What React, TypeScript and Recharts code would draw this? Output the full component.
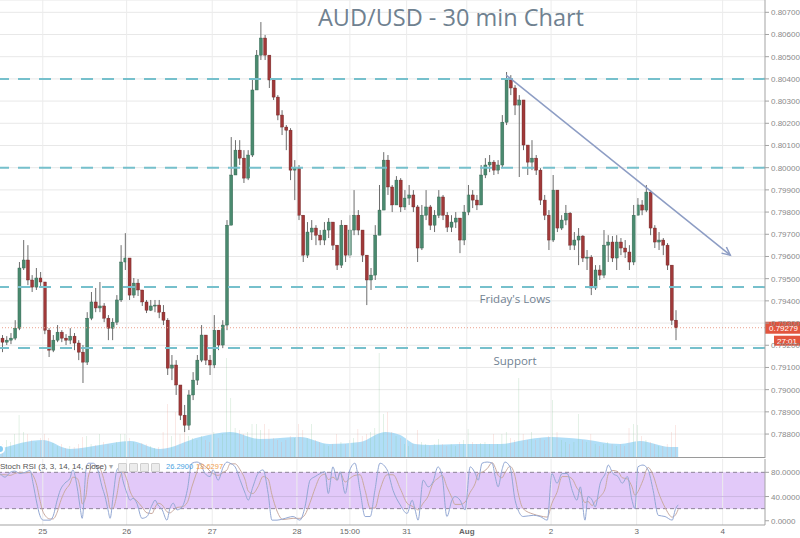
import React from 'react';
import {
  ComposedChart,
  Bar,
  Area,
  Line,
  XAxis,
  YAxis,
  CartesianGrid,
  ReferenceLine,
  ReferenceArea,
  ReferenceDot,
  Cell,
} from 'recharts';

// AUD/USD candles (one bar = 72 min)
const firstOpen = 0.79232;
const closes = [
  0.79214, 0.79223, 0.79232, 0.79277, 0.79548, 0.79584, 0.79494, 0.79462, 0.79503, 0.79485,
  0.79268, 0.79178, 0.79223, 0.79259, 0.79232, 0.79223, 0.79241, 0.7921, 0.79169, 0.79124,
  0.79322, 0.79395, 0.79368, 0.79377, 0.79322, 0.79277, 0.79304, 0.79404, 0.79575, 0.79593,
  0.79426, 0.7948, 0.79449, 0.79395, 0.79358, 0.79377, 0.79381, 0.79349, 0.79313, 0.79097,
  0.79111, 0.79021, 0.78885, 0.7884, 0.78976, 0.79043, 0.79133, 0.79246, 0.79133, 0.79111,
  0.79268, 0.79201, 0.79291, 0.79741, 0.79967, 0.80079, 0.80043, 0.79953, 0.80057, 0.8035,
  0.80507, 0.80584, 0.80507, 0.80395, 0.80318, 0.80237, 0.80183, 0.80169, 0.79989, 0.79998,
  0.79786, 0.79606, 0.7971, 0.79728, 0.79696, 0.79674, 0.79719, 0.79755, 0.79651, 0.79561,
  0.79741, 0.79606, 0.79719, 0.79786, 0.79719, 0.79606, 0.79494, 0.79516, 0.79696, 0.79809,
  0.80034, 0.79913, 0.79832, 0.79944, 0.79823, 0.79863, 0.79877, 0.79823, 0.79638, 0.79786,
  0.79823, 0.79741, 0.79786, 0.79868, 0.79786, 0.79732, 0.79755, 0.79773, 0.79674, 0.798,
  0.79877, 0.79854, 0.79832, 0.79967, 0.80012, 0.80025, 0.79989, 0.80012, 0.80205, 0.80395,
  0.80359, 0.80282, 0.80305, 0.80102, 0.80025, 0.80043, 0.79989, 0.79854, 0.79786, 0.79674,
  0.79899, 0.79728, 0.79764, 0.79795, 0.79651, 0.79674, 0.79692, 0.79593, 0.79597, 0.79458,
  0.79539, 0.79516, 0.79651, 0.79665, 0.79593, 0.79665, 0.79638, 0.7962, 0.79575, 0.79786,
  0.79832, 0.79809, 0.7989, 0.79728, 0.79665, 0.79674, 0.79651, 0.79561, 0.79313, 0.79279,
];
const highs = [
  0.79246, 0.79241, 0.79255, 0.79313, 0.79575, 0.79674, 0.79651, 0.79516, 0.79548, 0.7953,
  0.79485, 0.79277, 0.79246, 0.79291, 0.79268, 0.7925, 0.79277, 0.79255, 0.79223, 0.79201,
  0.79349, 0.7944, 0.79458, 0.79485, 0.7939, 0.79336, 0.79322, 0.79426, 0.79651, 0.79705,
  0.79593, 0.79503, 0.79498, 0.79449, 0.79404, 0.79404, 0.79404, 0.79404, 0.79381, 0.79322,
  0.79156, 0.79133, 0.79021, 0.78931, 0.78998, 0.79079, 0.79156, 0.79291, 0.79246, 0.79156,
  0.79336, 0.79268, 0.79313, 0.79764, 0.80138, 0.80124, 0.80124, 0.80079, 0.80079, 0.80395,
  0.8053, 0.80656, 0.80598, 0.80507, 0.80395, 0.80327, 0.80259, 0.80192, 0.80178, 0.80034,
  0.80012, 0.79741, 0.79755, 0.79764, 0.79741, 0.79719, 0.79755, 0.79773, 0.79741, 0.79651,
  0.79764, 0.79741, 0.79786, 0.79899, 0.79809, 0.7971, 0.79606, 0.79548, 0.79741, 0.79922,
  0.8007, 0.80057, 0.79922, 0.79962, 0.79953, 0.79899, 0.79922, 0.79899, 0.79832, 0.79832,
  0.79899, 0.79832, 0.79809, 0.79899, 0.79877, 0.798, 0.79786, 0.798, 0.79773, 0.79832,
  0.79922, 0.79899, 0.79877, 0.80012, 0.80043, 0.80057, 0.80034, 0.80034, 0.80237, 0.80431,
  0.80417, 0.80372, 0.80327, 0.80305, 0.80102, 0.80124, 0.80057, 0.79998, 0.79877, 0.79809,
  0.79967, 0.79899, 0.79786, 0.79832, 0.798, 0.7971, 0.79728, 0.79696, 0.79629, 0.79606,
  0.79561, 0.79561, 0.79719, 0.79696, 0.79692, 0.79696, 0.79683, 0.79674, 0.79651, 0.79832,
  0.79863, 0.79854, 0.79922, 0.79899, 0.79741, 0.7971, 0.79683, 0.7966, 0.79561, 0.79358,
];
const lows = [
  0.79169, 0.79201, 0.79205, 0.79223, 0.79268, 0.79539, 0.79471, 0.7944, 0.79449, 0.79467,
  0.7925, 0.79147, 0.79169, 0.79214, 0.79214, 0.79201, 0.79205, 0.79178, 0.79133, 0.7903,
  0.79111, 0.79313, 0.79349, 0.79349, 0.79304, 0.79223, 0.79223, 0.79291, 0.79395, 0.79539,
  0.79404, 0.79413, 0.79422, 0.79377, 0.79345, 0.79354, 0.79349, 0.79322, 0.79291, 0.79066,
  0.79043, 0.78976, 0.78863, 0.78809, 0.78818, 0.78953, 0.79021, 0.79124, 0.79111, 0.79066,
  0.79097, 0.79178, 0.79187, 0.79268, 0.79877, 0.79989, 0.80012, 0.79931, 0.79944, 0.80048,
  0.8035, 0.80485, 0.80485, 0.80359, 0.80305, 0.80214, 0.80147, 0.80079, 0.79944, 0.79854,
  0.79764, 0.79575, 0.79593, 0.79674, 0.79651, 0.79651, 0.79651, 0.79683, 0.79629, 0.79539,
  0.79548, 0.79575, 0.79593, 0.79696, 0.79696, 0.79575, 0.79381, 0.79449, 0.79494, 0.79696,
  0.79809, 0.79877, 0.798, 0.79832, 0.798, 0.79809, 0.79832, 0.798, 0.79575, 0.79629,
  0.79764, 0.79719, 0.7971, 0.79773, 0.79764, 0.7971, 0.7971, 0.79728, 0.79615, 0.79651,
  0.79786, 0.79818, 0.79809, 0.79899, 0.79953, 0.7998, 0.79967, 0.79971, 0.79998, 0.80192,
  0.80327, 0.80237, 0.79958, 0.80079, 0.79967, 0.79989, 0.79967, 0.79832, 0.79764, 0.79629,
  0.79665, 0.7971, 0.79719, 0.79741, 0.79629, 0.79629, 0.79561, 0.79575, 0.79539, 0.79426,
  0.79449, 0.79494, 0.79503, 0.79575, 0.79575, 0.79539, 0.79606, 0.79593, 0.79539, 0.79561,
  0.79786, 0.79786, 0.798, 0.79696, 0.79638, 0.79629, 0.79606, 0.79539, 0.79291, 0.79223,
];
const volumes = [
  140, 180, 160, 240, 430, 260, 240, 180, 160, 200,
  240, 200, 150, 120, 140, 100, 120, 110, 140, 210,
  220, 140, 130, 240, 160, 140, 130, 160, 240, 240,
  200, 160, 140, 150, 140, 120, 100, 110, 260, 540,
  220, 460, 240, 260, 220, 200, 180, 220, 180, 160,
  260, 200, 240, 1000, 600, 300, 280, 240, 260, 340,
  340, 280, 340, 290, 200, 180, 160, 180, 220, 200,
  340, 280, 200, 340, 180, 160, 140, 120, 140, 240,
  160, 140, 180, 200, 290, 220, 240, 260, 300, 1050,
  440, 460, 260, 220, 200, 140, 120, 140, 280, 160,
  140, 120, 140, 190, 140, 120, 140, 120, 160, 180,
  290, 160, 140, 150, 160, 140, 240, 140, 240, 260,
  200, 180, 800, 240, 180, 260, 180, 200, 180, 220,
  580, 260, 180, 160, 140, 160, 440, 180, 160, 240,
  140, 120, 140, 160, 140, 120, 140, 120, 300, 340,
  330, 220, 180, 160, 140, 120, 120, 140, 260, 330,
];
// volume moving average (bar index, value)
const volMaTime = [0, 10.2, 16.5, 23.6, 30.7, 37.8, 47.2, 54.3, 61.4, 70.8, 77.9, 85, 90.9, 94.5, 98, 101.5, 108.6, 118.1, 125.1, 129.9, 137, 146.4, 151.1, 158.2, 160.1];
const volMaValue = [90, 180, 90, 130, 170, 90, 210, 260, 190, 210, 140, 160, 260, 230, 140, 130, 140, 140, 190, 210, 190, 140, 170, 110, 110];

// Stoch RSI (3, 3, 14, 14, close)
const stochTime = [
  0, 1.2, 2.4, 3.5, 4.7, 5.9, 7.1, 7.8, 8.7, 9.4,
  10.2, 11.8, 12.5, 13.5, 14.2, 15.3, 16.5, 17.2, 18.2, 18.9,
  19.4, 20.3, 20.8, 22.0, 23.1, 24.1, 24.8, 25.5, 26.0, 26.7,
  27.6, 28.3, 29.0, 30.0, 30.7, 31.4, 32.3, 33.5, 34.7, 35.9,
  36.6, 37.3, 38.3, 39.4, 40.1, 40.9, 41.8, 43.0, 44.2, 45.3,
  46.5, 47.2, 48.4, 49.6, 50.3, 51.5, 52.7, 53.6, 54.3, 55.5,
  56.7, 57.9, 58.6, 59.7, 60.9, 62.1, 63.3, 64.2, 65.4, 66.8,
  69.2, 70.8, 72.0, 73.2, 74.4, 75.6, 76.7, 77.5, 78.6, 79.6,
  80.3, 81.5, 82.6, 83.8, 85.0, 86.2, 87.4, 88.5, 89.7, 91.4,
  92.8, 94.5, 96.1, 97.3, 98.0, 98.7, 99.9, 101.1, 102.2, 103.4,
  104.4, 105.5, 106.7, 107.4, 108.6, 109.8, 111.0, 112.2, 112.9, 113.8,
  115.0, 116.2, 116.9, 117.6, 118.5, 119.2, 120.4, 121.6, 122.3, 123.5,
  125.9, 127.5, 129.2, 130.3, 131.5, 132.7, 133.9, 135.1, 136.2, 137.0,
  138.1, 138.8, 139.8, 140.5, 141.7, 142.9, 143.6, 144.7, 145.9, 146.9,
  148.1, 149.2, 149.9, 150.6, 151.8, 153.0, 154.2, 155.4, 157.0, 158.7,
  159.4, 160.1,
];
const stochK = [
  78, 72, 80, 82, 78, 80, 83, 62, 29, 9,
  1, 1, 7, 34, 50, 62, 70, 84, 56, 23,
  4, 84, 95, 95, 84, 56, 40, 18, 4, 40,
  84, 89, 67, 45, 34, 37, 29, 4, 7, 26,
  34, 26, 18, 1, 20, 29, 18, 23, 50, 95,
  97, 95, 78, 73, 84, 67, 89, 97, 95, 89,
  67, 45, 34, 56, 78, 84, 45, 1, 1, 3,
  7, 1, 23, 67, 73, 78, 81, 45, 89, 67,
  81, 45, 84, 95, 50, 7, 7, 50, 95, 84,
  50, 26, 12, 34, 18, 1, 67, 56, 64, 89,
  73, 7, 34, 40, 34, 18, 89, 78, 67, 95,
  97, 95, 73, 56, 84, 97, 89, 34, 18, 7,
  9, 7, 1, 78, 62, 78, 78, 50, 34, 56,
  1, 40, 34, 23, 62, 78, 92, 78, 73, 62,
  73, 34, 20, 89, 92, 84, 50, 9, 7, 1,
  18, 26.29,
];
const stochD = [
  76, 76, 75, 78, 80, 79, 80, 75, 58, 35,
  14, 3, 3, 14, 30, 49, 61, 72, 70, 54,
  28, 41, 71, 91, 91, 78, 60, 38, 20, 21,
  43, 71, 80, 67, 49, 39, 33, 23, 13, 12,
  22, 29, 26, 15, 13, 17, 22, 23, 30, 56,
  81, 95, 90, 82, 78, 75, 80, 84, 94, 94,
  84, 67, 49, 45, 56, 73, 69, 43, 16, 2,
  4, 4, 10, 30, 54, 73, 77, 68, 72, 67,
  79, 64, 70, 75, 76, 50, 21, 21, 51, 76,
  76, 53, 29, 24, 21, 18, 29, 41, 62, 70,
  75, 56, 38, 27, 27, 31, 47, 62, 78, 80,
  86, 96, 88, 75, 71, 79, 90, 73, 47, 20,
  11, 8, 6, 29, 47, 73, 73, 69, 54, 47,
  30, 32, 25, 32, 40, 54, 77, 83, 81, 71,
  69, 56, 42, 48, 67, 88, 75, 48, 22, 6,
  9, 18.6297,
];

const dayTicks = [10.1, 29.9, 50.1, 70.1, 82.6, 96.0, 110.2, 130.1, 150.3, 170.6];
const dayLabels = ['25', '26', '27', '28', '15:00', '31', 'Aug', '2', '3', '4'];
const priceTicks = [
  0.788, 0.789, 0.79, 0.791, 0.792, 0.793, 0.794, 0.795, 0.796, 0.797,
  0.798, 0.799, 0.8, 0.801, 0.802, 0.803, 0.804, 0.805, 0.806, 0.807,
];
const stochTicks = [0, 40, 80];
const levels = [0.804, 0.8, 0.79462, 0.79188];
const lastPrice = 0.79279;
const countdown = '27:01';
const trendTime = [119.5, 172.4];
const trendPrice = [0.80417, 0.79606];
const notes = [
  { text: "Friday's Lows", time: 121.6, price: 0.79408 },
  { text: 'Support', time: 121.6, price: 0.79129 },
];

const X_DOMAIN: [number, number] = [0, 180.6];
const PRICE_DOMAIN: [number, number] = [0.786921, 0.807554];
const UP = '#4a8a6f';
const DOWN = '#a03939';
const NOTE = '#718292';
const AXIS = '#a3a3a3';

const candles = closes.map((c, i) => {
  const o = i === 0 ? firstOpen : closes[i - 1];
  return {
    x: i + 0.5,
    open: o,
    close: c,
    high: Math.max(highs[i], o, c),
    low: Math.min(lows[i], o, c),
    vol: volumes[i],
  };
});
const volMa = volMaTime.map((t, i) => ({ x: t, ma: volMaValue[i] }));
const stochData = stochTime.map((t, i) => ({ x: t, k: stochK[i], d: stochD[i] }));
const trendData = trendTime.map((t, i) => ({ x: t, y: trendPrice[i] }));

const Candle = (props: any) => {
  const { x, y, width, height, payload } = props;
  if (x == null || y == null || !payload) return <g />;
  const top = Math.min(y, y + height);
  const h = Math.abs(height);
  const range = payload.high - payload.low;
  const k = range > 0 ? h / range : 0;
  const py = (p: number) => top + (payload.high - p) * k;
  const up = payload.close >= payload.open;
  const cx = x + width / 2;
  const bTop = py(Math.max(payload.open, payload.close));
  const bBot = py(Math.min(payload.open, payload.close));
  return (
    <g>
      <line x1={cx} x2={cx} y1={top} y2={top + h} stroke="#6d6d6d" strokeWidth={1} />
      <rect
        x={x}
        y={bTop}
        width={width}
        height={Math.max(1, bBot - bTop)}
        fill={up ? UP : DOWN}
        stroke={up ? '#2f5f4b' : '#6a2424'}
        strokeWidth={0.4}
      />
    </g>
  );
};

const PriceTick = ({ x, y, payload }: any) => (
  <text x={x} y={y} dy={3} fontSize={8} fill="#8a8a8a" textAnchor="start">
    {Number(payload.value).toFixed(5)}
  </text>
);

const StochTick = ({ x, y, payload }: any) => (
  <text x={x} y={y} dy={3} fontSize={8} fill="#8a8a8a" textAnchor="start">
    {Number(payload.value).toFixed(4)}
  </text>
);

const DayTick = ({ x, y, payload }: any) => {
  const i = dayTicks.indexOf(payload.value);
  const label = i >= 0 ? dayLabels[i] : '';
  return (
    <text x={x} y={y} dy={7} fontSize={8} fill="#666" textAnchor="middle" fontWeight={label === 'Aug' ? 700 : 400}>
      {label}
    </text>
  );
};

const PriceTag = (props: any) => {
  const vb = props.viewBox;
  if (!vb) return null;
  const x = vb.x + vb.width;
  const y = vb.y;
  return (
    <g>
      <rect x={x} y={y - 6} width={35} height={12} fill="#e2553e" />
      <text x={x + 4} y={y + 3} fontSize={8} fill="#fff">
        {lastPrice.toFixed(5)}
      </text>
      <rect x={x + 9} y={y + 8} width={26} height={10} fill="#e2553e" />
      <text x={x + 12} y={y + 16} fontSize={8} fill="#fff">
        {countdown}
      </text>
    </g>
  );
};

let firstDot: { x: number; y: number } | null = null;
const ArrowHead = (props: any) => {
  const { cx, cy, index, points } = props;
  if (index === 0) {
    firstDot = { x: cx, y: cy };
    return <g key="a0" />;
  }
  const p0 = points && points.length > 1 ? points[0] : firstDot;
  if (!p0) return <g key={`a${index}`} />;
  const ang = Math.atan2(cy - p0.y, cx - p0.x);
  const len = 9;
  const spread = 0.45;
  const a1 = ang + Math.PI - spread;
  const a2 = ang + Math.PI + spread;
  return (
    <path
      key={`a${index}`}
      d={`M${cx + len * Math.cos(a1)},${cy + len * Math.sin(a1)} L${cx},${cy} L${cx + len * Math.cos(a2)},${cy + len * Math.sin(a2)}`}
      stroke="#8d9dc4"
      strokeWidth={1.5}
      fill="none"
    />
  );
};

export default function App() {
  return (
    <div
      style={{
        position: 'absolute',
        left: 0,
        top: 0,
        width: 800,
        height: 538,
        background: '#fff',
        overflow: 'hidden',
        fontFamily: '"Liberation Sans", Arial, sans-serif',
      }}
    >
      <div style={{ position: 'absolute', left: 0, top: 0 }}>
        <ComposedChart width={800} height={458} data={candles} margin={{ top: 0, right: 0, bottom: 0, left: 0 }}>
          <XAxis type="number" dataKey="x" domain={X_DOMAIN} allowDataOverflow hide ticks={dayTicks} />
          <XAxis xAxisId="v" type="number" dataKey="x" domain={X_DOMAIN} allowDataOverflow hide />
          <YAxis
            orientation="right"
            width={35}
            domain={PRICE_DOMAIN}
            allowDataOverflow
            ticks={priceTicks}
            interval={0}
            tick={<PriceTick />}
            tickSize={4}
            axisLine={{ stroke: AXIS }}
            tickLine={{ stroke: AXIS }}
          />
          <YAxis yAxisId="v" hide domain={[0, 4580]} allowDataOverflow />
          <CartesianGrid vertical={false} stroke="#e8e8e8" />
          {dayTicks.map((t) => (
            <ReferenceLine key={`g${t}`} x={t} stroke="#ececec" />
          ))}
          <Area
            xAxisId="v"
            yAxisId="v"
            data={volMa}
            dataKey="ma"
            type="monotone"
            stroke="none"
            fill="#86cdf2"
            fillOpacity={0.65}
            isAnimationActive={false}
          />
          <Bar xAxisId="v" yAxisId="v" dataKey="vol" barSize={3} isAnimationActive={false}>
            {candles.map((c, i) => (
              <Cell key={`v${i}`} fill={c.close >= c.open ? '#86c392' : '#ec9d90'} fillOpacity={0.6} />
            ))}
          </Bar>
          {levels.map((l) => (
            <ReferenceLine key={`l${l}`} y={l} stroke="#76c0cc" strokeWidth={2} strokeDasharray="12 9" />
          ))}
          <ReferenceLine y={lastPrice} stroke="#eba08c" strokeDasharray="1 2" label={<PriceTag />} />
          <Bar
            dataKey={(d: any) => [d.low, d.high]}
            barSize={3}
            isAnimationActive={false}
            shape={(p: any) => <Candle {...p} />}
          />
          <Line
            data={trendData}
            dataKey="y"
            stroke="#8d9dc4"
            strokeWidth={1.5}
            dot={ArrowHead}
            activeDot={false}
            isAnimationActive={false}
          />
          {notes.map((n) => (
            <ReferenceDot
              key={n.text}
              x={n.time}
              y={n.price}
              r={1}
              fill="none"
              stroke="none"
              label={{ value: n.text, position: 'center', fill: NOTE, fontSize: 11.5, fontFamily: '"Open Sans", sans-serif' }}
            />
          ))}
        </ComposedChart>
      </div>

      <div
        style={{
          position: 'absolute',
          left: 318,
          top: 6,
          fontFamily: '"Open Sans", sans-serif',
          fontSize: 23.5,
          lineHeight: 1,
          color: '#6f8190',
          whiteSpace: 'nowrap',
        }}
      >
        AUD/USD - 30 min Chart
      </div>

      <div style={{ position: 'absolute', left: 0, top: 457, width: 765, height: 1, background: '#9a9a9a' }} />

      <div style={{ position: 'absolute', left: 0, top: 458 }}>
        <ComposedChart width={800} height={80} data={stochData} margin={{ top: 1, right: 0, bottom: 0, left: 0 }}>
          <XAxis
            type="number"
            dataKey="x"
            domain={X_DOMAIN}
            allowDataOverflow
            ticks={dayTicks}
            interval={0}
            height={13}
            tickSize={0}
            tickMargin={2}
            tickLine={false}
            axisLine={{ stroke: AXIS }}
            tick={<DayTick />}
          />
          <YAxis
            orientation="right"
            width={35}
            domain={[-7, 102]}
            allowDataOverflow
            ticks={stochTicks}
            interval={0}
            tick={<StochTick />}
            tickSize={4}
            axisLine={{ stroke: AXIS }}
            tickLine={{ stroke: AXIS }}
          />
          {dayTicks.map((t) => (
            <ReferenceLine key={`s${t}`} x={t} stroke="#ececec" />
          ))}
          <ReferenceArea y1={20} y2={80} fill="#e2c9f9" fillOpacity={1} stroke="none" />
          <ReferenceLine y={40} stroke="#cdb7e3" />
          <ReferenceLine y={80} stroke="#8e8499" strokeDasharray="4 3" />
          <ReferenceLine y={20} stroke="#8e8499" strokeDasharray="4 3" />
          <Line dataKey="d" type="monotone" stroke="#c9aaa0" strokeWidth={1} dot={false} isAnimationActive={false} />
          <Line dataKey="k" type="monotone" stroke="#93a8d4" strokeWidth={1} dot={false} isAnimationActive={false} />
        </ComposedChart>
      </div>

      <div style={{ position: 'absolute', left: 0, top: 462, fontSize: 8, lineHeight: '10px', whiteSpace: 'nowrap', color: '#555' }}>
        <span style={{ position: 'absolute', left: 0 }}>Stoch RSI (3, 3, 14, 14, close)</span>
        <span style={{ position: 'absolute', left: 109, color: '#aaa' }}>▾</span>
        {[118, 129, 140, 151].map((l) => (
          <span
            key={l}
            style={{
              position: 'absolute',
              left: l,
              top: 1,
              width: 7,
              height: 7,
              background: '#ececec',
              border: '1px solid #cfcfcf',
              borderRadius: 1,
            }}
          />
        ))}
        <span style={{ position: 'absolute', left: 166, fontSize: 7.5, color: '#4aa3df' }}>
          {stochK[stochK.length - 1].toFixed(4)}
        </span>
        <span style={{ position: 'absolute', left: 196, fontSize: 7.5, color: '#f0a050' }}>
          {stochD[stochD.length - 1].toFixed(4)}
        </span>
      </div>
    </div>
  );
}
